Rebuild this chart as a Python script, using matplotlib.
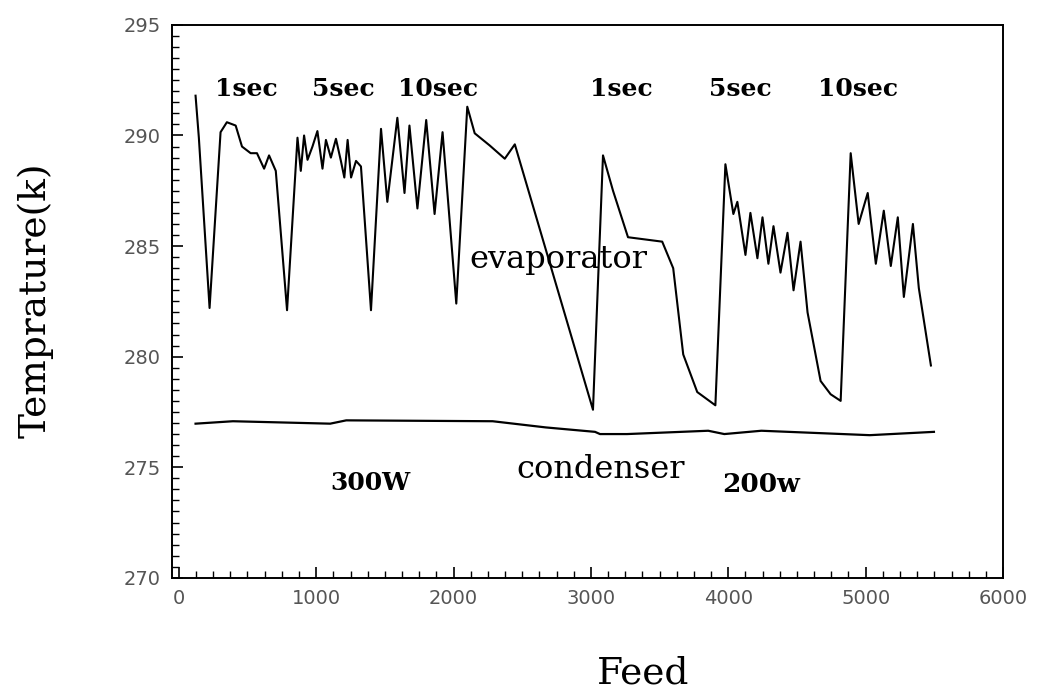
import matplotlib
matplotlib.use("Agg")
import matplotlib.pyplot as plt
from matplotlib.ticker import MultipleLocator

# Evaporator temperature trace (Feed vs K)
evap_x = [122, 146, 224, 304, 350, 414, 460, 523, 569, 621, 657, 706, 788,
          864, 888, 912, 937, 973, 1009, 1046, 1071, 1107, 1144, 1180, 1205, 1229, 1254, 1290, 1326,
          1399, 1472, 1518, 1591, 1643, 1679, 1737, 1801, 1862, 1920, 2020,
          2100, 2154, 2263, 2373, 2446, 3015,
          3088, 3161, 3270, 3519, 3599, 3672, 3774, 3906,
          3979, 4037, 4066, 4125, 4161, 4212, 4249, 4292, 4329, 4380, 4431, 4475, 4526, 4577,
          4672, 4745, 4818,
          4891, 4949, 5015, 5074, 5132, 5183, 5234, 5278, 5344, 5387, 5475]
evap_y = [291.8, 289.9, 282.2, 290.15, 290.6, 290.45, 289.5, 289.2, 289.2, 288.5, 289.1, 288.4, 282.1,
          289.9, 288.4, 290.0, 288.9, 289.5, 290.2, 288.5, 289.8, 289.0, 289.85, 288.85, 288.1, 289.8, 288.1, 288.85, 288.6,
          282.1, 290.3, 287.0, 290.8, 287.4, 290.45, 286.7, 290.7, 286.45, 290.15, 282.4,
          291.3, 290.1, 289.55, 288.95, 289.6, 277.6,
          289.1, 287.5, 285.4, 285.2, 284.0, 280.1, 278.4, 277.8,
          288.7, 286.45, 287.0, 284.6, 286.5, 284.45, 286.3, 284.2, 285.9, 283.8, 285.6, 283.0, 285.2, 282.0,
          278.9, 278.3, 278.0,
          289.2, 286.0, 287.4, 284.2, 286.6, 284.1, 286.3, 282.7, 286.0, 283.1, 279.6]

# Condenser temperature trace
cond_x = [122, 394, 1102, 1219, 2285, 2672, 3030, 3066, 3263, 3854, 3971, 4241, 4636, 5030, 5497]
cond_y = [276.97, 277.08, 276.97, 277.12, 277.08, 276.8, 276.6, 276.5, 276.5, 276.65, 276.5, 276.65, 276.55, 276.45, 276.6]

x_ticks = [0, 1000, 2000, 3000, 4000, 5000, 6000]
y_ticks = [270, 275, 280, 285, 290, 295]

interval_labels = ["1sec", "5sec", "10sec", "1sec", "5sec", "10sec"]
interval_x = [494, 1200, 1890, 3220, 4087, 4945]

fig = plt.figure(figsize=(10.42, 6.92), dpi=100)
ax = fig.add_axes([0.165, 0.165, 0.7976, 0.799])

ax.plot(evap_x, evap_y, color="black", lw=1.5)
ax.plot(cond_x, cond_y, color="black", lw=1.6)

ax.set_xlim(-50, 6000)
ax.set_ylim(270, 295)
ax.set_xticks(x_ticks)
ax.set_yticks(y_ticks)
ax.xaxis.set_minor_locator(MultipleLocator(125))
ax.yaxis.set_minor_locator(MultipleLocator(0.5))
ax.tick_params(axis="both", which="both", direction="in", color="black")
ax.tick_params(axis="both", which="major", length=8, width=1.2, labelsize=14,
               labelcolor="#555555", pad=8)
ax.tick_params(axis="both", which="minor", length=5, width=1.0)
for s in ax.spines.values():
    s.set_linewidth(1.4)

serif = "DejaVu Serif"
for lab, xv in zip(interval_labels, interval_x):
    ax.text(xv, 292.1, lab, ha="center", va="center", fontsize=18,
            fontweight="bold", family=serif)

ax.text(2763, 284.4, "evaporator", ha="center", va="center", fontsize=23, family=serif)
ax.text(3068, 274.9, "condenser", ha="center", va="center", fontsize=23, family=serif)
ax.text(1396, 274.3, "300W", ha="center", va="center", fontsize=18, fontweight="bold", family=serif)
ax.text(4239, 274.2, "200w", ha="center", va="center", fontsize=19, fontweight="bold", family=serif)

fig.text(35 / 1042, 0.566, "Temprature(k)", rotation=90, ha="center", va="center",
         fontsize=27, family=serif)
fig.text(643 / 1042, 0.012, "Feed", ha="center", va="baseline", fontsize=27, family=serif)

fig.savefig("out.png", dpi=100)
